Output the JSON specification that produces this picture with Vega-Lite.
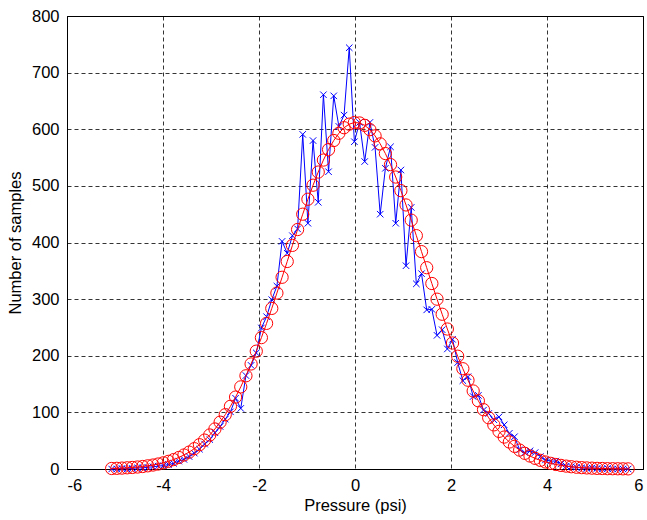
{
  "$schema": "https://vega.github.io/schema/vega-lite/v6.json",
  "width": 576,
  "height": 453,
  "autosize": {"type": "none"},
  "padding": {"left": 67, "top": 16, "right": 4, "bottom": 51},
  "background": "white",
  "config": {
    "view": {"stroke": "black", "strokeWidth": 1},
    "font": "Liberation Sans",
    "axis": {
      "labelFont": "Liberation Sans",
      "titleFont": "Liberation Sans",
      "labelFontSize": 16.5,
      "titleFontSize": 16.5,
      "titleFontWeight": "normal",
      "labelColor": "black",
      "titleColor": "black",
      "domainColor": "black",
      "grid": true,
      "gridColor": "black",
      "gridOpacity": 1,
      "gridDash": [4, 3],
      "gridWidth": 0.8,
      "ticks": false,
      "labelPadding": 8,
      "labelExpr": "replace(datum.label, '−', '-')"
    }
  },
  "data": {
    "values": [
      {"x": -5.070, "measured": 0, "fit": 0.9},
      {"x": -4.962, "measured": 0, "fit": 1.2},
      {"x": -4.855, "measured": 1, "fit": 1.6},
      {"x": -4.747, "measured": 0, "fit": 2.1},
      {"x": -4.640, "measured": 1, "fit": 2.7},
      {"x": -4.532, "measured": 2, "fit": 3.5},
      {"x": -4.424, "measured": 2, "fit": 4.4},
      {"x": -4.317, "measured": 3, "fit": 5.6},
      {"x": -4.209, "measured": 4, "fit": 7.0},
      {"x": -4.102, "measured": 5, "fit": 8.8},
      {"x": -3.994, "measured": 6, "fit": 10.9},
      {"x": -3.886, "measured": 8, "fit": 13.5},
      {"x": -3.779, "measured": 10, "fit": 16.6},
      {"x": -3.671, "measured": 14, "fit": 20.3},
      {"x": -3.564, "measured": 17, "fit": 24.7},
      {"x": -3.456, "measured": 22, "fit": 29.8},
      {"x": -3.348, "measured": 28, "fit": 35.9},
      {"x": -3.241, "measured": 35, "fit": 42.9},
      {"x": -3.133, "measured": 44, "fit": 51.0},
      {"x": -3.026, "measured": 52, "fit": 60.1},
      {"x": -2.918, "measured": 64, "fit": 70.7},
      {"x": -2.810, "measured": 75, "fit": 82.7},
      {"x": -2.703, "measured": 88, "fit": 95.9},
      {"x": -2.595, "measured": 101, "fit": 110.7},
      {"x": -2.488, "measured": 125, "fit": 127.0},
      {"x": -2.380, "measured": 107, "fit": 145.0},
      {"x": -2.272, "measured": 165, "fit": 164.6},
      {"x": -2.165, "measured": 183, "fit": 185.5},
      {"x": -2.057, "measured": 205, "fit": 208.1},
      {"x": -1.950, "measured": 249, "fit": 232.0},
      {"x": -1.842, "measured": 269, "fit": 257.2},
      {"x": -1.734, "measured": 299, "fit": 283.6},
      {"x": -1.627, "measured": 323, "fit": 310.7},
      {"x": -1.519, "measured": 402, "fit": 338.6},
      {"x": -1.412, "measured": 381, "fit": 366.5},
      {"x": -1.304, "measured": 412, "fit": 394.9},
      {"x": -1.196, "measured": 424, "fit": 422.9},
      {"x": -1.089, "measured": 591, "fit": 450.0},
      {"x": -0.981, "measured": 434, "fit": 476.4},
      {"x": -0.874, "measured": 580, "fit": 501.2},
      {"x": -0.766, "measured": 471, "fit": 524.4},
      {"x": -0.658, "measured": 661, "fit": 545.6},
      {"x": -0.551, "measured": 525, "fit": 564.1},
      {"x": -0.443, "measured": 659, "fit": 580.1},
      {"x": -0.336, "measured": 605, "fit": 592.9},
      {"x": -0.228, "measured": 625, "fit": 602.7},
      {"x": -0.120, "measured": 744, "fit": 609.0},
      {"x": -0.013, "measured": 578, "fit": 611.8},
      {"x": 0.095, "measured": 612, "fit": 611.1},
      {"x": 0.202, "measured": 543, "fit": 606.9},
      {"x": 0.310, "measured": 612, "fit": 599.3},
      {"x": 0.418, "measured": 568, "fit": 588.3},
      {"x": 0.525, "measured": 450, "fit": 574.2},
      {"x": 0.633, "measured": 531, "fit": 557.1},
      {"x": 0.740, "measured": 569, "fit": 537.6},
      {"x": 0.848, "measured": 434, "fit": 515.6},
      {"x": 0.956, "measured": 528, "fit": 491.6},
      {"x": 1.063, "measured": 359, "fit": 466.3},
      {"x": 1.171, "measured": 462, "fit": 439.5},
      {"x": 1.278, "measured": 327, "fit": 412.1},
      {"x": 1.386, "measured": 345, "fit": 383.9},
      {"x": 1.494, "measured": 281, "fit": 355.5},
      {"x": 1.601, "measured": 282, "fit": 327.6},
      {"x": 1.709, "measured": 236, "fit": 299.9},
      {"x": 1.816, "measured": 246, "fit": 273.3},
      {"x": 1.924, "measured": 212, "fit": 247.2},
      {"x": 2.032, "measured": 229, "fit": 222.5},
      {"x": 2.139, "measured": 188, "fit": 199.2},
      {"x": 2.247, "measured": 156, "fit": 177.1},
      {"x": 2.354, "measured": 163, "fit": 156.8},
      {"x": 2.462, "measured": 128, "fit": 137.8},
      {"x": 2.570, "measured": 130, "fit": 120.4},
      {"x": 2.677, "measured": 104, "fit": 104.8},
      {"x": 2.785, "measured": 98, "fit": 90.5},
      {"x": 2.892, "measured": 87, "fit": 77.9},
      {"x": 3.000, "measured": 92, "fit": 66.5},
      {"x": 3.108, "measured": 78, "fit": 56.4},
      {"x": 3.215, "measured": 63, "fit": 47.7},
      {"x": 3.323, "measured": 57, "fit": 40.0},
      {"x": 3.430, "measured": 34, "fit": 33.4},
      {"x": 3.538, "measured": 29, "fit": 27.7},
      {"x": 3.646, "measured": 32, "fit": 22.9},
      {"x": 3.753, "measured": 29, "fit": 18.8},
      {"x": 3.861, "measured": 22, "fit": 15.3},
      {"x": 3.968, "measured": 16, "fit": 12.4},
      {"x": 4.076, "measured": 14, "fit": 10.0},
      {"x": 4.184, "measured": 14, "fit": 8.0},
      {"x": 4.291, "measured": 9, "fit": 6.4},
      {"x": 4.399, "measured": 5, "fit": 5.1},
      {"x": 4.506, "measured": 4, "fit": 4.0},
      {"x": 4.614, "measured": 3, "fit": 3.1},
      {"x": 4.722, "measured": 2, "fit": 2.4},
      {"x": 4.829, "measured": 1, "fit": 1.9},
      {"x": 4.937, "measured": 2, "fit": 1.5},
      {"x": 5.044, "measured": 1, "fit": 1.1},
      {"x": 5.152, "measured": 0, "fit": 0.9},
      {"x": 5.260, "measured": 1, "fit": 0.6},
      {"x": 5.367, "measured": 0, "fit": 0.5},
      {"x": 5.475, "measured": 0, "fit": 0.4},
      {"x": 5.582, "measured": 0, "fit": 0.3},
      {"x": 5.690, "measured": 0, "fit": 0.2}
    ]
  },
  "encoding": {
    "x": {
      "field": "x",
      "type": "quantitative",
      "scale": {"domain": [-6, 6], "nice": false, "zero": false},
      "axis": {"values": [-6, -4, -2, 0, 2, 4, 6], "title": "Pressure (psi)", "titlePadding": 4}
    }
  },
  "layer": [
    {
      "mark": {"type": "line", "color": "#0000ff", "strokeWidth": 1},
      "encoding": {
        "y": {
          "field": "measured",
          "type": "quantitative",
          "scale": {"domain": [0, 800], "nice": false},
          "axis": {"values": [0, 100, 200, 300, 400, 500, 600, 700, 800], "title": "Number of samples", "titlePadding": 8}
        }
      }
    },
    {
      "mark": {"type": "point", "shape": "M-1,-1L1,1M-1,1L1,-1", "filled": false, "stroke": "#0000ff", "strokeWidth": 1, "size": 42, "opacity": 1},
      "encoding": {"y": {"field": "measured", "type": "quantitative"}}
    },
    {
      "mark": {"type": "line", "color": "#ff0000", "strokeWidth": 1},
      "encoding": {"y": {"field": "fit", "type": "quantitative"}}
    },
    {
      "mark": {"type": "point", "shape": "circle", "filled": false, "stroke": "#ff0000", "strokeWidth": 1, "size": 150, "opacity": 1},
      "encoding": {"y": {"field": "fit", "type": "quantitative"}}
    }
  ]
}
